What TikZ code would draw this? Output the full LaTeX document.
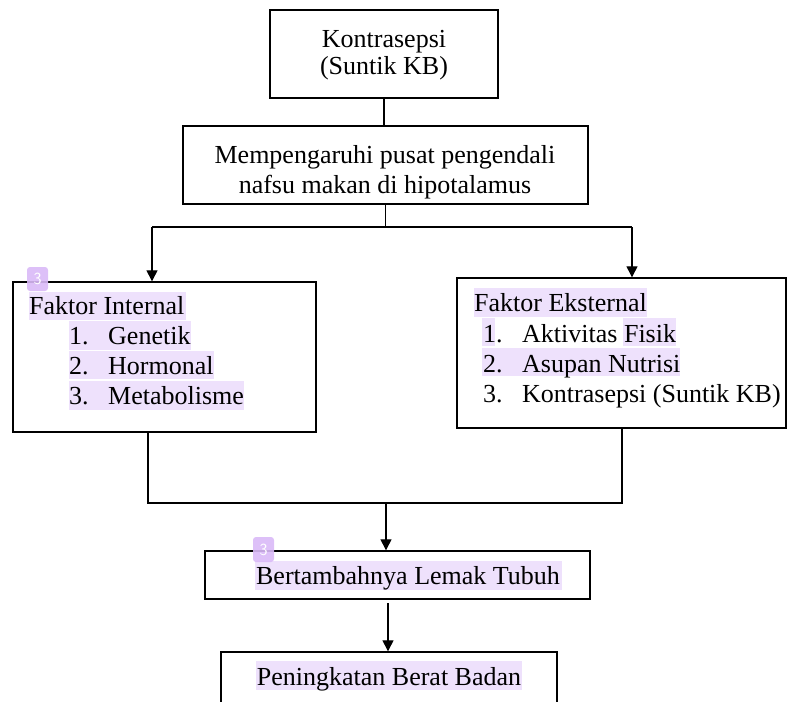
\documentclass[tikz,border=0pt]{standalone}
\usepackage{fontspec}
\setmainfont{Liberation Serif}
\usetikzlibrary{arrows.meta}
\definecolor{hl}{HTML}{EEE1FC}
\definecolor{badge}{HTML}{D9B9F7}
\begin{document}
\begin{tikzpicture}[x=1pt,y=-1pt,
  box/.style={draw,line width=1.4pt,inner sep=0pt},
  txt/.style={inner sep=0pt,font=\fontsize{26}{30}\selectfont},
  con/.style={line width=1.3pt},
  arr/.style={con,-{Triangle[length=11pt,width=11pt]}},
  hlbox/.style={fill=hl,draw=none},
  badgebox/.style={fill=badge,rounded corners=3pt,draw=none,opacity=0.9},
  badgetxt/.style={text=white,font=\sffamily\fontsize{17}{17}\selectfont,inner sep=0pt}
]
\useasboundingbox (0,0) rectangle (788,702);
\clip (0,0) rectangle (788,702);
% highlights
\fill[hlbox] (29,292) rectangle (186,320);
\fill[hlbox] (69,321) rectangle (191,350);
\fill[hlbox] (69,351) rectangle (214,379);
\fill[hlbox] (69,381) rectangle (244,410);
\fill[hlbox] (474,288) rectangle (647,317);
\fill[hlbox] (482,318) rectangle (495,346);
\fill[hlbox] (623,318) rectangle (676,346);
\fill[hlbox] (482,348) rectangle (680,376);
\fill[hlbox] (255,561) rectangle (562,590);
\fill[hlbox] (256,661) rectangle (522,690);
% boxes
\node[box,minimum width=228pt,minimum height=88pt] (k1) at (384,54) {};
\node[box,minimum width=405pt,minimum height=78pt] (k2) at (385.5,165) {};
\node[box,minimum width=303pt,minimum height=150pt] (fi) at (164.5,357) {};
\node[box,minimum width=329pt,minimum height=150pt] (fe) at (621.5,353) {};
\node[box,minimum width=385pt,minimum height=48pt] (lemak) at (397.5,575) {};
\node[box,minimum width=336pt,minimum height=68pt] (berat) at (389,686) {};
% texts
\node[txt,anchor=base] (t1a) at (384,47) {Kontrasepsi};
\node[txt,anchor=base] (t1b) at (384,74) {(Suntik KB)};
\node[txt,anchor=base] (t2a) at (385,163) {Mempengaruhi pusat pengendali};
\node[txt,anchor=base] (t2b) at (385,193) {nafsu makan di hipotalamus};
\node[txt,anchor=base west] (ti0) at (29,314) {Faktor Internal};
\node[txt,anchor=base west] (ti1) at (69,344) {\makebox[39pt][l]{1.}Genetik};
\node[txt,anchor=base west] (ti2) at (69,374) {\makebox[39pt][l]{2.}Hormonal};
\node[txt,anchor=base west] (ti3) at (69,404) {\makebox[39pt][l]{3.}Metabolisme};
\node[txt,anchor=base west] (te0) at (474,311) {Faktor Eksternal};
\node[txt,anchor=base west] (te1) at (483,342) {\makebox[39pt][l]{1.}Aktivitas Fisik};
\node[txt,anchor=base west] (te2) at (483,372) {\makebox[39pt][l]{2.}Asupan Nutrisi};
\node[txt,anchor=base west] (te3) at (483,402) {\makebox[39pt][l]{3.}Kontrasepsi (Suntik KB)};
\node[txt,anchor=base] (t3) at (408,584) {Bertambahnya Lemak Tubuh};
\node[txt,anchor=base] (t4) at (389,685) {Peningkatan Berat Badan};
% badges
\fill[badgebox] (27,267) rectangle (48,291);
\node[badgetxt] (b1) at (37.5,279) {3};
\fill[badgebox] (253,537) rectangle (274,562);
\node[badgetxt] (b2) at (263.5,549.5) {3};
% connectors
\coordinate (sl) at (152,227);
\coordinate (sr) at (632,227);
\coordinate (jl) at (148,503);
\coordinate (jr) at (622,503);
\coordinate (jm) at (386,503);
\coordinate (jb) at (388,603);
\draw[con] (k1.south) -- (k1.south |- k2.north);
\draw[con] (k2.south) -- (k2.south |- sl);
\draw[con] (sl) -- (sr);
\draw[arr] (sl) -- (sl |- fi.north);
\draw[arr] (sr) -- (sr |- fe.north);
\draw[con] (jl |- fi.south) -- (jl) -- (jr) -- (jr |- fe.south);
\draw[arr] (jm) -- (jm |- lemak.north);
\draw[arr] (jb) -- (jb |- berat.north);
\end{tikzpicture}
\end{document}
